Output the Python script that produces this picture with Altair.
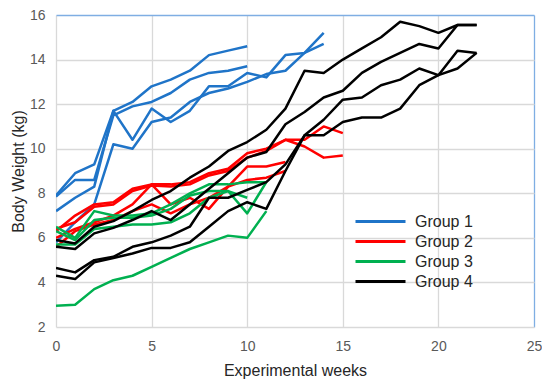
import altair as alt
import pandas as pd

# Group 1 (blue)
b1 = [7.9, 8.9, 9.3, 11.7, 12.1, 12.8, 13.1, 13.5, 14.2, 14.4, 14.6]
b2 = [7.85, 8.6, 8.6, 11.5, 11.9, 12.1, 12.5, 13.1, 13.4, 13.5, 13.7]
b3 = [7.2, 7.8, 8.3, 11.7, 10.4, 11.8, 11.2, 11.7, 12.8, 12.8, 13.4, 13.2, 14.2, 14.3, 14.7]
b4 = [5.8, 6.7, 7.5, 10.2, 10.0, 11.2, 11.4, 12.1, 12.5, 12.7, 13.0, 13.35, 13.5, 14.3, 15.2]
# Group 2 (red)
r1 = [6.3, 7.0, 7.5, 7.6, 8.2, 8.4, 8.4, 8.5, 8.9, 9.1, 9.8, 10.0, 10.4, 10.4, 11.0, 10.7]
r2 = [6.4, 6.7, 7.4, 7.5, 8.1, 8.35, 8.3, 8.4, 8.8, 9.0, 9.6, 9.9, 10.4, 10.1, 9.6, 9.7]
r3 = [6.0, 6.4, 6.7, 7.0, 7.5, 8.4, 7.5, 7.8, 7.3, 8.3, 9.2, 9.2, 9.4]
r4 = [5.6, 6.3, 6.6, 6.8, 7.2, 7.5, 7.1, 7.5, 7.8, 8.3, 8.6, 8.7, 9.0]
# Group 3 (green)
g1 = [2.95, 3.0, 3.7, 4.1, 4.3, 4.7, 5.1, 5.5, 5.8, 6.1, 6.0, 7.2]
g2 = [6.5, 6.0, 7.2, 7.0, 7.0, 7.1, 7.5, 8.0, 8.4, 8.4, 8.5, 8.5]
g3 = [5.7, 5.7, 6.4, 6.5, 6.6, 6.6, 6.7, 7.1, 7.8, 8.1, 7.8]
g4 = [6.3, 5.9, 6.8, 6.9, 6.9, 7.0, 7.3, 7.9, 8.1, 8.1, 7.1, 8.5]
# Group 4 (black)
k1 = [5.9, 5.75, 6.5, 6.75, 7.2, 7.7, 8.1, 8.7, 9.2, 9.9, 10.3, 10.85, 11.8, 13.5, 13.4, 14.0,
      14.5, 15.0, 15.7, 15.5, 15.2, 15.55, 15.55]
k2 = [5.6, 5.5, 6.2, 6.45, 6.8, 7.2, 6.8, 7.5, 8.2, 8.9, 9.6, 9.85, 11.1, 11.65, 12.3, 12.6,
      13.4, 13.9, 14.3, 14.7, 14.5, 15.55, 15.55]
k3 = [4.65, 4.45, 5.0, 5.15, 5.6, 5.8, 6.1, 6.5, 7.8, 7.8, 8.15, 8.5, 9.3, 10.6, 11.3, 12.2,
      12.3, 12.85, 13.1, 13.6, 13.3, 13.6, 14.3]
k4 = [4.3, 4.15, 4.9, 5.1, 5.3, 5.55, 5.55, 5.8, 6.5, 7.2, 7.6, 7.3, 9.0, 10.6, 10.6, 11.2,
      11.4, 11.4, 11.8, 12.85, 13.3, 14.4, 14.3]

groups = ["Group 1", "Group 2", "Group 3", "Group 4"]
colors = ["#1F74C8", "#FF0000", "#00B050", "#000000"]
series = {
    "Group 1": [b1, b2, b3, b4],
    "Group 2": [r1, r2, r3, r4],
    "Group 3": [g1, g2, g3, g4],
    "Group 4": [k1, k2, k3, k4],
}

rows = []
for g in groups:
    for i, s in enumerate(series[g]):
        for wk, v in enumerate(s):
            rows.append({"week": wk, "weight": v, "group": g, "id": f"{g}-{i}"})
df = pd.DataFrame(rows)

border = "#7FAEE3"
grid = "#D9D9D9"
font = "Liberation Sans"

chart = (
    alt.Chart(df)
    .mark_line(strokeWidth=2.5, strokeJoin="round", clip=True)
    .encode(
        x=alt.X(
            "week:Q",
            scale=alt.Scale(domain=[0, 25], nice=False),
            axis=alt.Axis(
                values=[0, 5, 10, 15, 20, 25],
                title="Experimental weeks",
                grid=True,
                gridColor=alt.condition(alt.datum.value == 25, alt.value(border), alt.value(grid)),
                gridWidth=1.3,
                domain=False,
                ticks=False,
                labelFlush=False,
                labelPadding=12,
                titlePadding=9,
            ),
        ),
        y=alt.Y(
            "weight:Q",
            scale=alt.Scale(domain=[2, 16], nice=False),
            axis=alt.Axis(
                values=[2, 4, 6, 8, 10, 12, 14, 16],
                title="Body Weight (kg)",
                grid=True,
                gridColor=alt.condition(alt.datum.value == 16, alt.value(border), alt.value(grid)),
                gridWidth=1.3,
                domain=False,
                ticks=False,
                labelPadding=11,
                titlePadding=3,
            ),
        ),
        color=alt.Color(
            "group:N",
            scale=alt.Scale(domain=groups, range=colors),
            legend=alt.Legend(
                title=None,
                orient="none",
                legendX=313,
                legendY=195,
                symbolType="M-2.5,0L2.5,0",
                symbolSize=400,
                symbolStrokeWidth=3,
                labelOffset=23,
                labelFontSize=16,
                labelFont=font,
                labelColor="#262626",
                padding=0,
                rowPadding=0,
            ),
        ),
        detail="id:N",
        order=alt.value(0),
    )
    .properties(
        width=478,
        height=312,
        padding={"left": 48, "top": 7, "right": 8, "bottom": 52},
        autosize="none",
    )
    .configure_view(stroke=None)
    .configure_axis(
        labelFont=font,
        labelFontSize=14,
        labelColor="#595959",
        titleFont=font,
        titleFontSize=16,
        titleColor="#262626",
        titleFontWeight="normal",
    )
)

chart.save("out.html", embed_options={"renderer": "svg", "actions": False})
